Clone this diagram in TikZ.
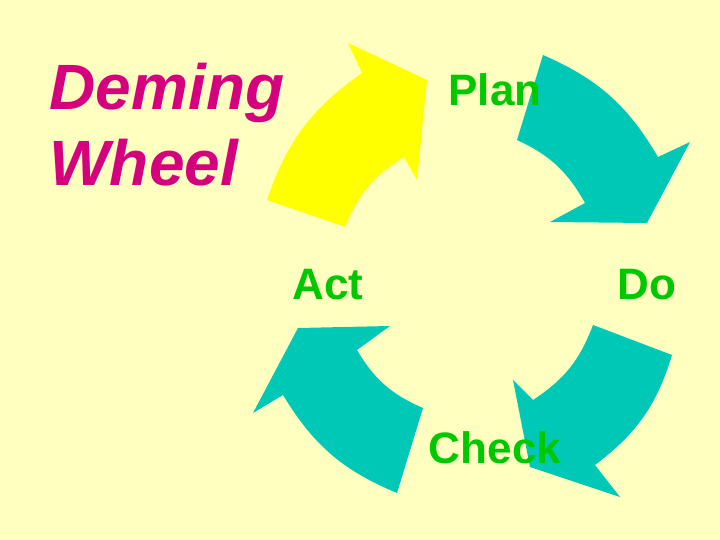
\documentclass[tikz,border=0pt]{standalone}
\usepackage{fontspec}
\setmainfont{Liberation Sans}
\definecolor{bg}{HTML}{FFFFC0}
\definecolor{teal1}{HTML}{00C8B6}
\definecolor{yel}{HTML}{FFFF00}
\definecolor{grn}{HTML}{00C800}
\definecolor{mag}{HTML}{D4007E}
\begin{document}
\begin{tikzpicture}[x=1pt,y=-1pt,
  arr/.style={fill=#1,draw=none},
  lab/.style={text=grn,font=\fontsize{44}{44}\selectfont\bfseries},
  title/.style={text=mag,font=\fontsize{64}{76}\selectfont\bfseries\itshape,align=left,anchor=north west}]
\fill[bg] (0,0) rectangle (720,540);
\useasboundingbox (0,0) rectangle (720,540);
% yellow Act->Plan
\path[arr=yel] (267,200) to[bend left=18] (362,73) -- (348,43) -- (427,80) -- (417,180) -- (404,157) to[bend right=18] (345,227) -- cycle;
% Plan->Do
\path[arr=teal1] (543,55) to[bend left=18] (658,157) -- (690,142) -- (647,223) -- (550,222) -- (585,203) to[bend right=18] (517,140) -- cycle;
% Do->Check
\path[arr=teal1] (672,355) to[bend left=18] (595,465) -- (620,497) -- (530,467) -- (513,380) -- (533,400) to[bend right=18] (593,325) -- cycle;
% Check->Act
\path[arr=teal1] (397,493) to[bend left=18] (283,395) -- (253,413) -- (298,328) -- (390,326) -- (357,350) to[bend right=18] (423,408) -- cycle;
% labels
\foreach \n/\t/\x/\y in {plan/Plan/495/90, act/Act/328/285, do/Do/647/285, check/Check/495/448}{
  \node[lab] (\n) at (\x,\y) {\t};
}
\node[title] (title) at (46,60) {Deming\\Wheel};
\end{tikzpicture}
\end{document}
